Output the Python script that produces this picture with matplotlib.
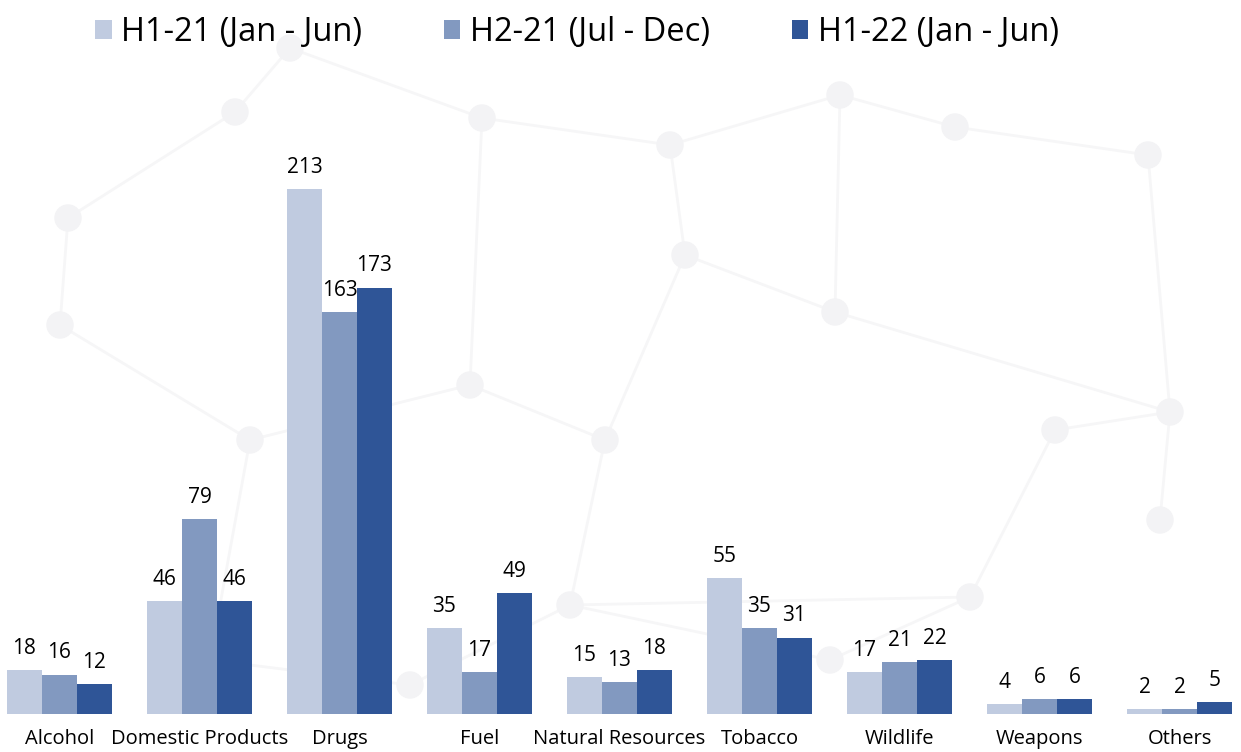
import matplotlib
matplotlib.use("Agg")
import matplotlib.pyplot as plt
import numpy as np

categories = ["Alcohol", "Domestic Products", "Drugs", "Fuel", "Natural Resources",
              "Tobacco", "Wildlife", "Weapons", "Others"]
series_names = ["H1-21 (Jan - Jun)", "H2-21 (Jul - Dec)", "H1-22 (Jan - Jun)"]
h1_21 = [18, 46, 213, 35, 15, 55, 17, 4, 2]
h2_21 = [16, 79, 163, 17, 13, 35, 21, 6, 2]
h1_22 = [12, 46, 173, 49, 18, 31, 22, 6, 5]
colors = ["#C0CBE0", "#8299C0", "#2F5597"]

plt.rcParams['font.family'] = ['Open Sans', 'DejaVu Sans']
W, H = 1241, 752
fig = plt.figure(figsize=(W / 100, H / 100), dpi=100)

# decorative faint network background
bg = fig.add_axes([0, 0, 1, 1], zorder=0)
bg.set_xlim(0, W); bg.set_ylim(H, 0); bg.axis("off")
nodes = [(235, 112), (68, 218), (60, 325), (290, 48), (482, 118), (840, 95), (955, 127),
         (670, 145), (1148, 155), (685, 255), (835, 312), (605, 440), (470, 385),
         (1170, 412), (1055, 430), (970, 597), (570, 605), (830, 660), (410, 685),
         (210, 660), (1160, 520), (250, 440)]
edges = [(0, 1), (1, 2), (0, 3), (3, 4), (4, 7), (7, 5), (5, 6), (6, 8), (7, 9), (9, 10),
         (10, 5), (9, 11), (11, 12), (12, 4), (10, 13), (13, 14), (14, 15), (15, 16),
         (16, 11), (16, 17), (17, 15), (18, 16), (18, 19), (19, 21), (21, 2), (13, 20),
         (8, 13), (21, 12)]
for a, b in edges:
    bg.plot([nodes[a][0], nodes[b][0]], [nodes[a][1], nodes[b][1]], color="#F6F6F7", lw=2, zorder=0)
for (x, y) in nodes:
    bg.add_patch(plt.Circle((x, y), 13, color="#F3F3F5", zorder=1))

ax = fig.add_axes([0, 38 / H, 1, 714 / H], zorder=1)
ax.patch.set_alpha(0)
x = np.arange(len(categories))
bw = 0.25
for i, (vals, c, name) in enumerate(zip([h1_21, h2_21, h1_22], colors, series_names)):
    bars = ax.bar(x + (i - 1) * bw, vals, width=bw, color=c, label=name)
    ax.bar_label(bars, labels=[str(v) for v in vals], padding=8, fontsize=15, color="black")

ax.set_xlim(-59.5 / 140, (W - 59.5) / 140)
ax.set_ylim(0, 714 / (525 / 213))
ax.set_xticks(x)
ax.set_xticklabels(categories, fontsize=14.5)
ax.tick_params(axis="x", length=0, pad=11)
ax.set_yticks([])
for s in ax.spines.values():
    s.set_visible(False)

leg = fig.legend(loc="upper center", bbox_to_anchor=(0.465, 1.018), ncol=3, frameon=False,
                 fontsize=23.5, handlelength=0.5, handleheight=0.5, handletextpad=0.3,
                 columnspacing=2.5)

fig.savefig("out.png", dpi=100)
